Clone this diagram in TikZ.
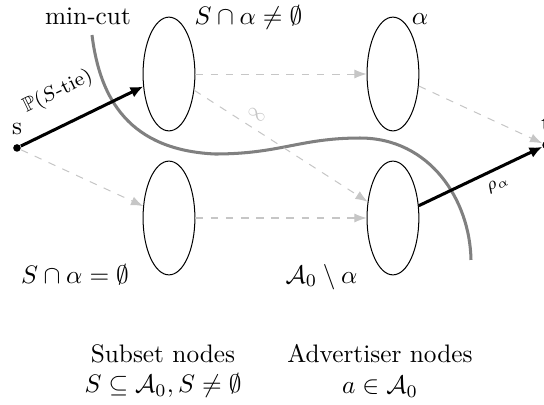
\documentclass[tikz,border=0pt]{standalone}
\usepackage{amsmath,amssymb}
\usetikzlibrary{arrows.meta,shapes.geometric}

\begin{document}
\begin{tikzpicture}[
  >={Latex},
  set/.style={draw, ellipse, minimum width=7.2mm, minimum height=15.8mm, inner sep=0pt},
  term/.style={circle, fill, inner sep=0pt, minimum size=3pt},
  flow/.style={->, dashed, gray!45},
  used/.style={-{Latex[length=5pt,width=4.5pt]}, line width=1.2pt},
  cut/.style={line width=1.2pt, gray}
]
  \useasboundingbox (0,0) rectangle (7.556,5.625);
  \node[term, label=above:s] (s) at (0.236,3.57) {};
  \node[term, label=above:t] (t) at (7.585,3.61) {};
  \node[set] (sa) at (2.347,4.597) {};
  \node[set] (sb) at (2.347,2.597) {};
  \node[set] (aa) at (5.458,4.597) {};
  \node[set] (ab) at (5.458,2.597) {};

  \draw[cut] (1.278,5.139) .. controls (1.389,4.236) and (1.806,3.542) .. (2.986,3.486)
    .. controls (3.889,3.486) and (4.167,3.708) .. (5.0,3.708)
    .. controls (5.972,3.708) and (6.528,2.847) .. (6.542,2.014);

  \draw[used] (s) -- node[sloped, above=5pt, pos=0.42, font=\footnotesize] (ptie) {$\mathbb{P}(S\text{-tie})$} (sa);
  \draw[flow] (s) -- (sb);
  \draw[flow] (sa) -- (aa);
  \draw[flow] (sa) -- node[sloped, above, pos=0.32, font=\scriptsize] (inf) {$\infty$} (ab);
  \draw[flow] (sb) -- (ab);
  \draw[flow] (aa) -- (t);
  \draw[used] (ab) -- node[sloped, below, pos=0.59, font=\scriptsize] (rho) {$\rho_\alpha$} (t);

  \node[anchor=base] (mc) at (1.222,5.278) {min-cut};
  \node[anchor=base] (lsa) at (3.451,5.278) {$S\cap\alpha\neq\emptyset$};
  \node[anchor=base] (laa) at (5.833,5.278) {$\alpha$};
  \node[anchor=base] (lsb) at (1.042,1.694) {$S\cap\alpha=\emptyset$};
  \node[anchor=base] (lab) at (4.465,1.694) {$\mathcal{A}_0\setminus\alpha$};
  \node[align=center] (subs) at (2.264,0.472) {Subset nodes\\$S\subseteq\mathcal{A}_0, S\neq\emptyset$};
  \node[align=center] (advs) at (5.278,0.472) {Advertiser nodes\\$a\in\mathcal{A}_0$};
\end{tikzpicture}
\end{document}
